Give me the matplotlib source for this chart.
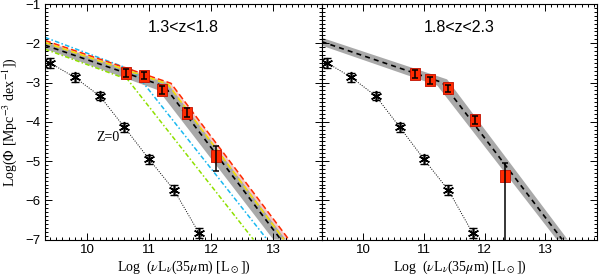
import numpy as np
import matplotlib
matplotlib.use("Agg")
import matplotlib.pyplot as plt
from matplotlib.ticker import MultipleLocator

plt.rcParams['mathtext.fontset'] = 'stix'

# ---------------- data ----------------
z0_x = [9.4, 9.8, 10.2, 10.6, 11.0, 11.4, 11.8]
z0_y = [-2.50, -2.87, -3.34, -4.14, -4.96, -5.74, -6.83]
z0_err = [0.12, 0.12, 0.11, 0.11, 0.12, 0.12, 0.13]

# panel 1: 1.3<z<1.8
p1_x = [10.62, 10.92, 11.21, 11.61, 12.08]
p1_y = [-2.75, -2.83, -3.20, -3.77, -4.87]
p1_elo = [0.10, 0.09, 0.10, 0.12, 0.39]
p1_ehi = [0.10, 0.09, 0.10, 0.12, 0.26]

# panel 2: 1.8<z<2.3
p2_x = [10.85, 11.10, 11.40, 11.84, 12.34]
p2_y = [-2.78, -2.94, -3.15, -3.96, -5.37]
p2_elo = [0.10, 0.09, 0.09, 0.11, 1.80]
p2_ehi = [0.10, 0.09, 0.09, 0.11, 0.31]

# broken power-law fits (break points)
p1_fit_x = [9.32, 11.25, 13.12]
p1_fit_y = [-2.05, -3.10, -7.0]
p1_up_x = [9.32, 11.30, 13.20]
p1_up_y = [-1.96, -3.02, -7.0]
p1_lo_x = [9.32, 11.15, 13.00]
p1_lo_y = [-2.14, -3.20, -7.0]
red_x = [9.32, 11.35, 13.25]
red_y = [-1.93, -3.02, -7.0]
yel_x = [9.32, 11.30, 13.17]
yel_y = [-1.98, -3.04, -7.0]
cyan_x = [9.32, 10.75, 12.90]
cyan_y = [-1.85, -2.70, -7.0]
green_x = [9.32, 10.65, 12.68]
green_y = [-2.15, -2.92, -7.0]

p2_fit_x = [9.31, 11.30, 13.28]
p2_fit_y = [-1.96, -3.00, -7.0]
p2_up_x = [9.31, 11.38, 13.37]
p2_up_y = [-1.86, -2.92, -7.0]
p2_lo_x = [9.31, 11.22, 13.19]
p2_lo_y = [-2.06, -3.08, -7.0]

titles = ["1.3<z<1.8", "1.8<z<2.3"]
xticks = [10, 11, 12, 13]
yticks = [-1, -2, -3, -4, -5, -6, -7]

# ---------------- figure ----------------
fig = plt.figure(figsize=(6.0, 2.77), dpi=100)
W, H = 600.0, 277.0
bot = 1 - 239.5 / H
hgt = (239.5 - 4.0) / H
ax1 = fig.add_axes([45 / W, bot, 276.7 / W, hgt])
ax2 = fig.add_axes([321.7 / W, bot, 275.6 / W, hgt])

GRAY = '#a9a9a9'
SQ = '#ff2a00'
RECT = [(-0.8, -1), (0.8, -1), (0.8, 1), (-0.8, 1), (-0.8, -1)]


def band(ax, ux, uy, lx, ly, color, alpha=1.0, z=1):
    ax.fill(np.r_[ux, lx[::-1]], np.r_[uy, ly[::-1]], color=color,
            lw=0, alpha=alpha, zorder=z)


def z0(ax):
    x = np.array(z0_x); y = np.array(z0_y)
    slope = (y[-1] - y[-2]) / (x[-1] - x[-2])
    ext_x = x[-1] + (-7.3 - y[-1]) / slope
    ax.plot(np.r_[x, ext_x], np.r_[y, -7.3], color='black', lw=0.7,
            ls=(0, (1, 1.5)), zorder=3)
    ax.errorbar(x, y, yerr=z0_err, fmt='none', ecolor='black', elinewidth=1.0,
                capsize=3, capthick=1.0, zorder=4)
    ax.plot(x, y, ls='none', marker=(6, 2, 0), ms=8, mew=1.1, color='black',
            zorder=5)


def squares(ax, x, y, elo, ehi):
    ax.plot(x, y, ls='none', marker=RECT, ms=9, mfc=SQ, mec='#c01000',
            mew=0.6, zorder=6)
    ax.errorbar(x, y, yerr=[elo, ehi], fmt='none', ecolor='black',
                elinewidth=1.1, capsize=2.5, capthick=1.1, zorder=7)


# panel 1
band(ax1, np.array(p1_up_x), np.array(p1_up_y), np.array(p1_lo_x),
     np.array(p1_lo_y), GRAY, z=1)
band(ax1, np.array(red_x), np.array(red_y), np.array(p1_up_x),
     np.array(p1_up_y), '#f08080', alpha=0.45, z=1)
ax1.plot(green_x, green_y, color='#8fe000', lw=1.1, ls=(0, (3, 1.5, 1, 1.5)), zorder=2)
ax1.plot(cyan_x, cyan_y, color='#19b8f0', lw=1.1, ls=(0, (3, 1.5, 1, 1.5)), zorder=2)
ax1.plot(red_x, red_y, color='#ff2a00', lw=1.1, ls=(0, (4, 2)), zorder=2)
ax1.plot(yel_x, yel_y, color='#f5e000', lw=1.1, ls=(0, (4, 2)), zorder=2)
ax1.plot(p1_fit_x, p1_fit_y, color='black', lw=1.2, ls=(0, (3, 2.5)), zorder=3)
z0(ax1)
squares(ax1, p1_x, p1_y, p1_elo, p1_ehi)
ax1.text(10.52, -4.40, "Z=0", ha='right', va='center',
         family='Liberation Serif', fontsize=10)

# panel 2
band(ax2, np.array(p2_up_x), np.array(p2_up_y), np.array(p2_lo_x),
     np.array(p2_lo_y), GRAY, z=1)
ax2.plot(p2_fit_x, p2_fit_y, color='black', lw=1.2, ls=(0, (3, 2.5)), zorder=3)
z0(ax2)
squares(ax2, p2_x, p2_y, p2_elo, p2_ehi)

xlabel = r"Log  ($\nu$L$_\nu$(35$\mu$m) [L$_\odot$])"
for ax, xl, t in [(ax1, (9.32, 13.78), titles[0]), (ax2, (9.31, 13.86), titles[1])]:
    ax.set_xlim(*xl)
    ax.set_ylim(-7, -1)
    ax.set_xticks(xticks)
    ax.set_yticks(yticks)
    ax.xaxis.set_minor_locator(MultipleLocator(0.1))
    ax.yaxis.set_minor_locator(MultipleLocator(0.1))
    ax.tick_params(which='both', direction='in', top=True, right=True,
                   width=0.7)
    ax.tick_params(which='major', length=5)
    ax.tick_params(which='minor', length=2.5)
    for s in ax.spines.values():
        s.set_linewidth(0.8)
    for lab in ax.get_xticklabels() + ax.get_yticklabels():
        lab.set_fontfamily('Liberation Sans')
        lab.set_fontsize(9.5)
    ax.set_xlabel(xlabel, family='Liberation Serif', fontsize=10, labelpad=2)
    ax.text(0.5, 0.90, t, transform=ax.transAxes, ha='center', va='center',
            family='Liberation Sans', fontsize=11.5)

ax1.set_yticklabels(["\u22121", "\u22122", "\u22123", "\u22124", "\u22125",
                     "\u22126", "\u22127"], family='Liberation Sans', fontsize=9.5)
ax2.set_yticklabels([])
ax1.set_ylabel(r"Log($\Phi$ [Mpc$^{-3}$ dex$^{-1}$])", family='Liberation Serif',
               fontsize=10, labelpad=4)

fig.savefig("out.png", dpi=100)
